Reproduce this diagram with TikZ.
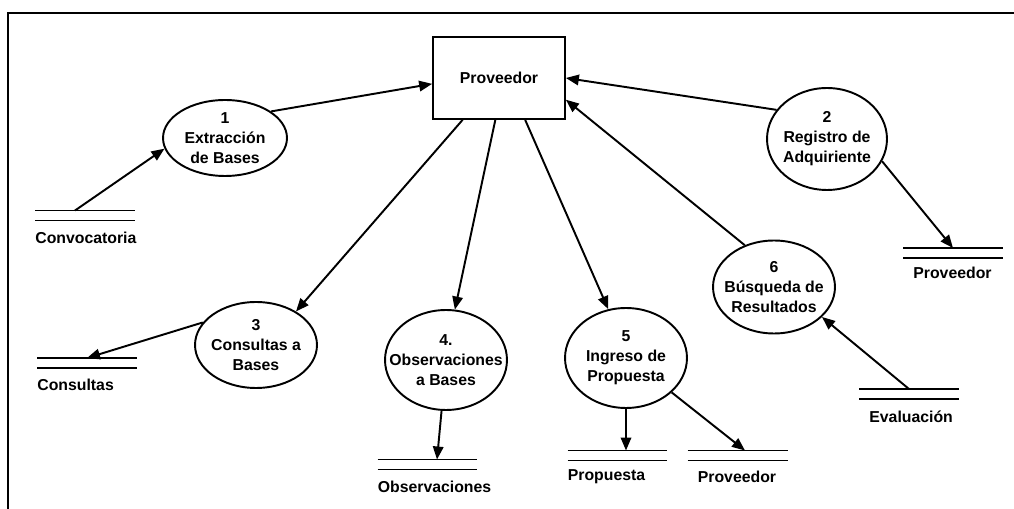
\documentclass[tikz,border=0pt]{standalone}
\usepackage{fontspec}
\setmainfont{Liberation Sans}
\usepackage{tikz}
\usetikzlibrary{arrows.meta, shapes.geometric, calc}
\newcommand{\dfdfont}{\fontsize{9pt}{11.4pt}\selectfont\bfseries}
\tikzset{
    process/.style={ellipse, draw, line width=1.1pt, align=center, inner xsep=-0.4cm, inner ysep=-0.2cm, font=\dfdfont},
    entity/.style={rectangle, draw, line width=1pt, minimum width=2.64cm, minimum height=1.64cm, font=\dfdfont},
    store/.style={minimum width=2cm, minimum height=0.2cm, inner sep=0pt, outer sep=0pt},
    storeline/.style={line width=1pt},
    storelbl/.style={anchor=west, inner sep=0pt, font=\dfdfont},
    flow/.style={-{Triangle[length=2.6mm, width=2.1mm]}, line width=1.1pt},
    frame/.style={line width=1.2pt}
}

\begin{document}
\begin{tikzpicture}[x=0.02cm, y=-0.02cm]
    \useasboundingbox (0,0) rectangle (1014,509);
    % Frame (top and left only)
    \draw[frame] (1014,13) -- (8,13) -- (8,509);

    % External entity
    \node[entity] (prov) at (499,78) {Proveedor};

    % Processes
    \node[process, minimum width=2.48cm, minimum height=1.52cm] (e1) at (225,138) {1\\Extracción\\de Bases};
    \node[process, minimum width=2.4cm, minimum height=2.04cm] (e2) at (827,139) {2\\Registro de\\Adquiriente};
    \node[process, minimum width=2.44cm, minimum height=1.72cm] (e3) at (256,345) {3\\Consultas a\\Bases};
    \node[process, minimum width=2.44cm, minimum height=2cm] (e4) at (446,360) {4.\\Observaciones\\a Bases};
    \node[process, minimum width=2.44cm, minimum height=2cm] (e5) at (626,358) {5\\Ingreso de\\Propuesta};
    \node[process, minimum width=2.44cm, minimum height=1.86cm] (e6) at (774,287) {6\\Búsqueda de\\Resultados};

    % Data stores
    \node[store] (convoc) at (85,215.5) {};
    \node[store] (consul) at (87,363) {};
    \node[store] (observ) at (427.5,464.5) {};
    \node[store] (propu) at (617.5,455.5) {};
    \node[store] (provB) at (737.5,455.5) {};
    \node[store] (evalu) at (909,394) {};
    \node[store] (provR) at (953,253) {};
    \foreach \s in {convoc,consul,observ,propu,provB,evalu,provR}{
        \draw[storeline] (\s.north west) -- (\s.north east) (\s.south west) -- (\s.south east);
    }
    \node[storelbl] (convocT) at ([yshift=-0.35cm]convoc.south west) {Convocatoria};
    \node[storelbl] (consulT) at ([yshift=-0.34cm]consul.south west) {Consultas};
    \node[storelbl] (observT) at ([yshift=-0.34cm]observ.south west) {Observaciones};
    \node[storelbl] (propuT) at ([yshift=-0.33cm]propu.south west) {Propuesta};
    \node[storelbl] (provBT) at ([xshift=0.2cm, yshift=-0.33cm]provB.south west) {Proveedor};
    \node[storelbl] (evaluT) at ([xshift=0.2cm, yshift=-0.36cm]evalu.south west) {Evaluación};
    \node[storelbl] (provRT) at ([xshift=0.2cm, yshift=-0.3cm]provR.south west) {Proveedor};

    % Flows
    \draw[flow] ([xshift=-0.2cm]convoc.north) -- (e1.190);
    \draw[flow] (e1.30) -- (prov.185);
    \draw[flow] (e2.150) -- (prov.east);
    \draw[flow] (e6.125) -- (prov.342);
    \draw[flow] (e2.338) -- (provR.north);
    \draw[flow] (prov.229) -- (e3.40);
    \draw[flow] (prov.265) -- (e4.80);
    \draw[flow] (prov.302) -- (e5.110);
    \draw[flow] (e3.157) -- (consul.north);
    \draw[flow] (e4.265) -- ([xshift=0.19cm]observ.north);
    \draw[flow] (e5.south) -- (e5.south |- propu.north);
    \draw[flow] (e5.323) -- ([xshift=0.15cm]provB.north);
    \draw[flow] (evalu.north) -- (e6.328);
\end{tikzpicture}
\end{document}
